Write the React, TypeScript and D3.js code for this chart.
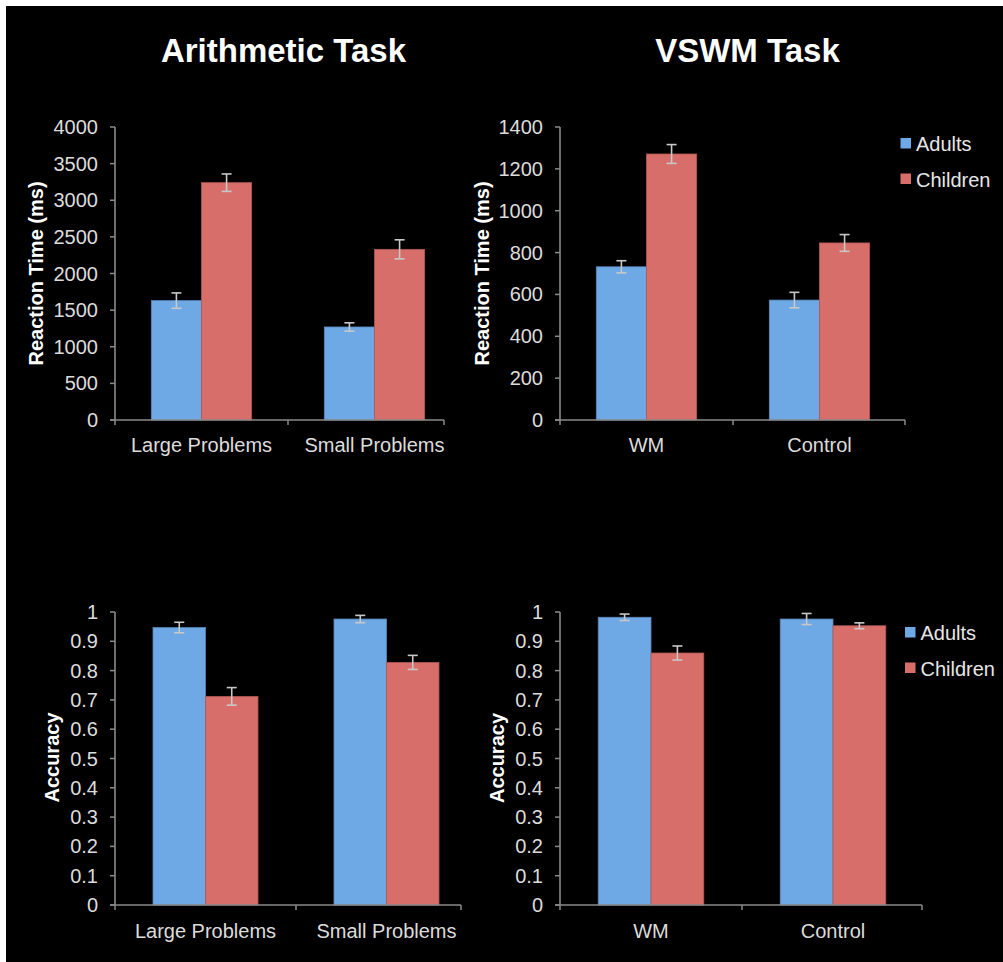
import React from "react";
import * as d3 from "d3";

// ---- data ----
const arithCategories = ["Large Problems", "Small Problems"];
const vswmCategories = ["WM", "Control"];
const groupNames = ["Adults", "Children"];

// Reaction time (ms)
const arithRtAdults = [1630, 1270];
const arithRtAdultsErr = [105, 57];
const arithRtChildren = [3240, 2330];
const arithRtChildrenErr = [119, 130];

const vswmRtAdults = [732, 573];
const vswmRtAdultsErr = [29, 37];
const vswmRtChildren = [1271, 846];
const vswmRtChildrenErr = [45, 40];

// Accuracy (proportion correct)
const arithAccAdults = [0.947, 0.976];
const arithAccAdultsErr = [0.018, 0.0125];
const arithAccChildren = [0.712, 0.828];
const arithAccChildrenErr = [0.03, 0.024];

const vswmAccAdults = [0.982, 0.976];
const vswmAccAdultsErr = [0.011, 0.019];
const vswmAccChildren = [0.86, 0.953];
const vswmAccChildrenErr = [0.024, 0.01];

// Tick labels
const arithRtTicks = [0, 500, 1000, 1500, 2000, 2500, 3000, 3500, 4000];
const vswmRtTicks = [0, 200, 400, 600, 800, 1000, 1200, 1400];
const accTicks = [0, 0.1, 0.2, 0.3, 0.4, 0.5, 0.6, 0.7, 0.8, 0.9, 1];

// ---- style ----
const BLUE = "#6ea9e6";
const RED = "#d86e69";
const AXIS = "#8a8a8a";
const LABEL = "#dcdcdc";
const ERR = "#c8c8c8";
const FONT = "'Liberation Sans', Arial, Helvetica, sans-serif";

type PanelProps = {
  categories: string[];
  adults: number[];
  adultsErr: number[];
  children: number[];
  childrenErr: number[];
  ticks: number[];
  yMax: number;
  yTitle: string;
  yTitleX: number;
  yTitleY: number;
  x0: number; // y axis position
  x1: number; // end of band range
  lineEnd: number; // end of drawn x axis line
  yTop: number;
  yBottom: number;
  labelDy: number;
};

function Panel(p: PanelProps) {
  const y = d3.scaleLinear().domain([0, p.yMax]).range([p.yBottom, p.yTop]);
  const x = d3
    .scaleBand<string>()
    .domain(p.categories)
    .range([p.x0, p.x1])
    .paddingInner(0.42)
    .paddingOuter(0.21);
  const inner = d3.scaleBand<string>().domain(groupNames).range([0, x.bandwidth()]);
  const step = x.step();
  const boundaries = [p.x0, p.x0 + step, p.lineEnd];

  const series = [
    { name: "Adults", vals: p.adults, errs: p.adultsErr, color: BLUE },
    { name: "Children", vals: p.children, errs: p.childrenErr, color: RED },
  ];

  return (
    <g>
      {/* bars */}
      {p.categories.map((c, i) =>
        series.map((s) => {
          const bx = (x(c) as number) + (inner(s.name) as number);
          const bw = inner.bandwidth();
          const top = y(s.vals[i]);
          return (
            <rect
              key={c + s.name}
              x={bx}
              y={top}
              width={bw}
              height={p.yBottom - top}
              fill={s.color}
              stroke={d3.color(s.color)!.darker(0.6).toString()}
              strokeWidth={0.8}
            />
          );
        })
      )}
      {/* error bars */}
      {p.categories.map((c, i) =>
        series.map((s) => {
          const cx = (x(c) as number) + (inner(s.name) as number) + inner.bandwidth() / 2;
          const hi = y(s.vals[i] + s.errs[i]);
          const lo = y(s.vals[i] - s.errs[i]);
          return (
            <g key={"e" + c + s.name} stroke={ERR} strokeWidth={1.6}>
              <line x1={cx} x2={cx} y1={hi} y2={lo} />
              <line x1={cx - 5} x2={cx + 5} y1={hi} y2={hi} />
              <line x1={cx - 5} x2={cx + 5} y1={lo} y2={lo} />
            </g>
          );
        })
      )}
      {/* y axis */}
      <line x1={p.x0} x2={p.x0} y1={p.yTop} y2={p.yBottom} stroke={AXIS} strokeWidth={1.6} />
      {p.ticks.map((t) => (
        <g key={"t" + t}>
          <line x1={p.x0 - 5} x2={p.x0} y1={y(t)} y2={y(t)} stroke={AXIS} strokeWidth={1.5} />
          <text
            x={p.x0 - 17}
            y={y(t) + 7}
            textAnchor="end"
            fill={LABEL}
            fontSize={20}
            fontFamily={FONT}
          >
            {String(t)}
          </text>
        </g>
      ))}
      {/* x axis */}
      <line x1={p.x0 - 5} x2={p.lineEnd} y1={p.yBottom} y2={p.yBottom} stroke={AXIS} strokeWidth={1.6} />
      {boundaries.map((b, i) => (
        <line key={"b" + i} x1={b} x2={b} y1={p.yBottom} y2={p.yBottom + 5} stroke={AXIS} strokeWidth={1.5} />
      ))}
      {p.categories.map((c) => (
        <text
          key={"c" + c}
          x={(x(c) as number) + x.bandwidth() / 2}
          y={p.yBottom + p.labelDy}
          textAnchor="middle"
          fill={LABEL}
          fontSize={20}
          fontFamily={FONT}
        >
          {c}
        </text>
      ))}
      {/* y title */}
      <text
        transform={`translate(${p.yTitleX},${p.yTitleY}) rotate(-90)`}
        textAnchor="middle"
        fill="#ffffff"
        fontSize={20}
        fontWeight="bold"
        fontFamily={FONT}
      >
        {p.yTitle}
      </text>
    </g>
  );
}

function Legend({ x, y, gap, size }: { x: number; y: number; gap: number; size: number }) {
  const colors = [BLUE, RED];
  return (
    <g>
      {groupNames.map((n, i) => (
        <g key={n}>
          <rect x={x} y={y + i * gap} width={size} height={size} fill={colors[i]} />
          <text
            x={x + size + 5}
            y={y + i * gap + size + 2.5}
            fill="#e6e6e6"
            fontSize={20}
            fontFamily={FONT}
          >
            {n}
          </text>
        </g>
      ))}
    </g>
  );
}

export default function App() {
  return (
    <svg
      width={1003}
      height={962}
      style={{ position: "absolute", left: 0, top: 0, display: "block" }}
    >
      <rect x={0} y={0} width={1003} height={962} fill="#ffffff" />
      <rect x={6} y={6} width={997} height={956} fill="#000000" />

      <text x={283.5} y={62} textAnchor="middle" fill="#ffffff" fontSize={33} fontWeight="bold" fontFamily={FONT}>
        Arithmetic Task
      </text>
      <text x={747.5} y={62} textAnchor="middle" fill="#ffffff" fontSize={33} fontWeight="bold" fontFamily={FONT}>
        VSWM Task
      </text>

      <Panel
        categories={arithCategories}
        adults={arithRtAdults}
        adultsErr={arithRtAdultsErr}
        children={arithRtChildren}
        childrenErr={arithRtChildrenErr}
        ticks={arithRtTicks}
        yMax={4000}
        yTitle="Reaction Time (ms)"
        yTitleX={43}
        yTitleY={273.5}
        x0={115}
        x1={461}
        lineEnd={444}
        yTop={127}
        yBottom={420}
        labelDy={32}
      />
      <Panel
        categories={vswmCategories}
        adults={vswmRtAdults}
        adultsErr={vswmRtAdultsErr}
        children={vswmRtChildren}
        childrenErr={vswmRtChildrenErr}
        ticks={vswmRtTicks}
        yMax={1400}
        yTitle="Reaction Time (ms)"
        yTitleX={489}
        yTitleY={273.5}
        x0={560}
        x1={906}
        lineEnd={905}
        yTop={127}
        yBottom={420}
        labelDy={32}
      />
      <Panel
        categories={arithCategories}
        adults={arithAccAdults}
        adultsErr={arithAccAdultsErr}
        children={arithAccChildren}
        childrenErr={arithAccChildrenErr}
        ticks={accTicks}
        yMax={1}
        yTitle="Accuracy"
        yTitleX={59}
        yTitleY={757.5}
        x0={115}
        x1={477}
        lineEnd={461}
        yTop={612}
        yBottom={905}
        labelDy={33}
      />
      <Panel
        categories={vswmCategories}
        adults={vswmAccAdults}
        adultsErr={vswmAccAdultsErr}
        children={vswmAccChildren}
        childrenErr={vswmAccChildrenErr}
        ticks={accTicks}
        yMax={1}
        yTitle="Accuracy"
        yTitleX={504}
        yTitleY={758}
        x0={560}
        x1={924}
        lineEnd={922}
        yTop={612}
        yBottom={905}
        labelDy={33}
      />

      <Legend x={900.5} y={138} gap={35.5} size={10.5} />
      <Legend x={905} y={627} gap={35.5} size={10.5} />
    </svg>
  );
}
